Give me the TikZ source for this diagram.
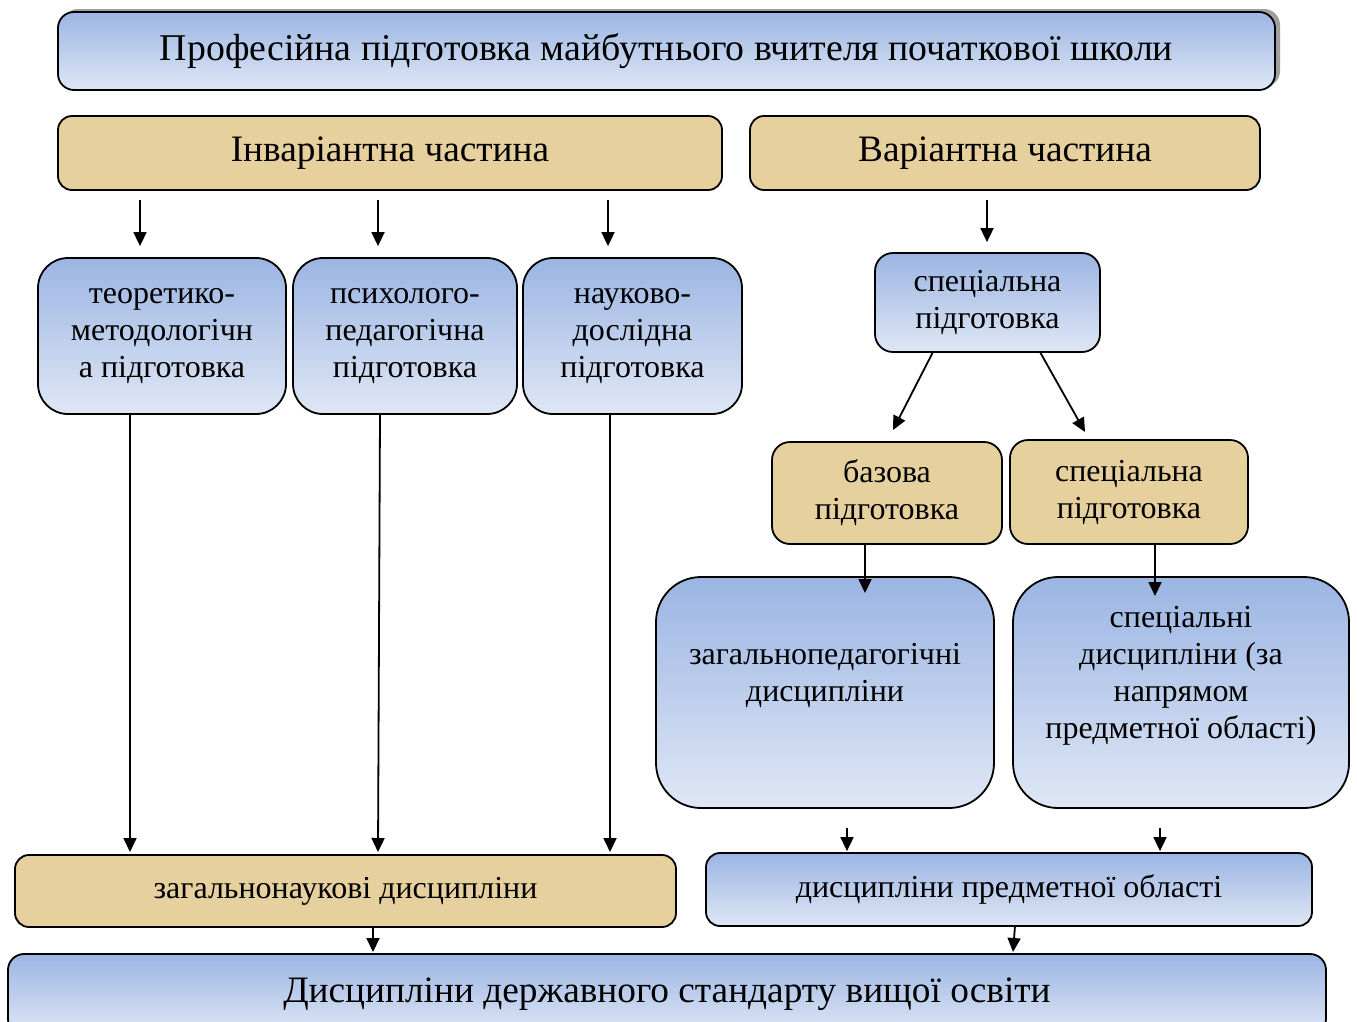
\documentclass[tikz,border=0pt]{standalone}
\usepackage{fontspec}
\setmainfont{Liberation Serif}
\usetikzlibrary{arrows.meta,calc}
\definecolor{bluetop}{HTML}{9BB5E3}
\definecolor{bluebot}{HTML}{DFE7F5}
\definecolor{pap}{HTML}{E6D09E}
\newcommand\titlefnt{\fontsize{37.8}{42}\selectfont}
\newcommand\headfnt{\fontsize{37.3}{42}\selectfont}
\newcommand\bodyfnt{\fontsize{32}{37}\selectfont}
\begin{document}
\begin{tikzpicture}[x=1pt,y=-1pt,
  box/.style={draw=black, line width=1.8pt, align=center, inner sep=0pt, font=\bodyfnt},
  bluebox/.style={box, top color=bluetop, bottom color=bluebot},
  papbox/.style={box, fill=pap},
  arr/.style={line width=1.8pt, -{Triangle[length=14pt,width=13pt]}},
]
\useasboundingbox (0,0) rectangle (1357,1021);
\clip (0,0) rectangle (1357,1021);
% title with shadow
\fill[gray!75, rounded corners=16pt] (62,9) rectangle (1280,87);
\node[bluebox, rounded corners=16pt, minimum width=1217pt, minimum height=78pt, font=\titlefnt] (title) at (666.5,51) {Професійна підготовка майбутнього вчителя початкової школи};
% headers
\node[papbox, rounded corners=14pt, minimum width=664pt, minimum height=74pt, font=\headfnt] (inv) at (390,153) {Інваріантна частина};
\node[papbox, rounded corners=14pt, minimum width=510pt, minimum height=74pt, font=\headfnt] (var) at (1005,153) {Варіантна частина};
% invariant row
\node[bluebox, rounded corners=30pt, minimum width=248pt, minimum height=156pt] (teo) at (162,336) {теоретико-\\методологічн\\а підготовка};
\node[bluebox, rounded corners=30pt, minimum width=224pt, minimum height=156pt] (psy) at (405,336) {психолого-\\педагогічна\\підготовка};
\node[bluebox, rounded corners=30pt, minimum width=219pt, minimum height=156pt] (nauk) at (632.5,336) {науково-\\дослідна\\підготовка};
% variant part
\node[bluebox, rounded corners=18pt, minimum width=225pt, minimum height=99pt] (spec) at (987.5,302.5) {спеціальна\\підготовка};
\node[papbox, rounded corners=18pt, minimum width=230pt, minimum height=102pt] (baz) at (887,493) {базова\\підготовка};
\node[papbox, rounded corners=18pt, minimum width=238pt, minimum height=104pt] (spec2) at (1129,492) {спеціальна\\підготовка};
\node[bluebox, rounded corners=45pt, minimum width=338pt, minimum height=231pt,
  label={[font=\bodyfnt, align=center, yshift=17pt]center:{загальнопедагогічні\\дисципліни}}] (zpd) at (825,692.5) {};
\node[bluebox, rounded corners=45pt, minimum width=336pt, minimum height=231pt,
  label={[font=\bodyfnt, align=center, yshift=17pt]center:{спеціальні\\дисципліни (за\\напрямом\\предметної області)}}] (sd) at (1181,692.5) {};
% lower boxes
\node[papbox, rounded corners=14pt, minimum width=661pt, minimum height=72pt] (znd) at (345.5,891) {загальнонаукові дисципліни};
\node[bluebox, rounded corners=14pt, minimum width=606pt, minimum height=73pt] (dpo) at (1009,889.5) {дисципліни предметної області};
\node[bluebox, rounded corners=16pt, minimum width=1318pt, minimum height=81pt, font=\headfnt] (dsv) at (667,994.5) {Дисципліни державного стандарту вищої освіти};
% free-standing arrows below headers
\coordinate (h1) at (140,200);
\coordinate (h2) at (378,200);
\coordinate (h3) at (608,200);
\coordinate (h4) at (987,200);
\draw[arr, shorten >=11pt] (h1) -- (h1 |- teo.north);
\draw[arr, shorten >=11pt] (h2) -- (h2 |- psy.north);
\draw[arr, shorten >=11pt] (h3) -- (h3 |- nauk.north);
\draw[arr, shorten >=10pt] (h4) -- (h4 |- spec.north);
% spec -> baz / spec2
\coordinate (e1) at (893,430);
\coordinate (e2) at (1085,432);
\draw[arr] ($(spec.south)+(-55,0)$) -- (e1);
\draw[arr] ($(spec.south)+(53,0)$) -- (e2);
% baz -> zpd, spec2 -> sd
\coordinate (e3) at (865,593);
\coordinate (e4) at (1155,596);
\draw[arr] (baz.south -| e3) -- (e3);
\draw[arr] (spec2.south -| e4) -- (e4);
% long arrows
\coordinate (l1) at (130,852);
\coordinate (l2) at (378,852);
\coordinate (l3) at (610,852);
\draw[arr] (teo.south -| l1) -- (l1);
\draw[arr] (380,414) -- (l2);
\draw[arr] (nauk.south -| l3) -- (l3);
% small arrows
\coordinate (s1) at (847,828);
\coordinate (s2) at (1160,828);
\draw[arr, shorten >=1pt] (s1) -- (s1 |- dpo.north);
\draw[arr, shorten >=1pt] (s2) -- (s2 |- dpo.north);
\coordinate (b1) at (373,952);
\coordinate (b2) at (1013,952);
\draw[arr] (znd.south -| b1) -- (b1);
\draw[arr] (1015,926) -- (b2);
\end{tikzpicture}
\end{document}
